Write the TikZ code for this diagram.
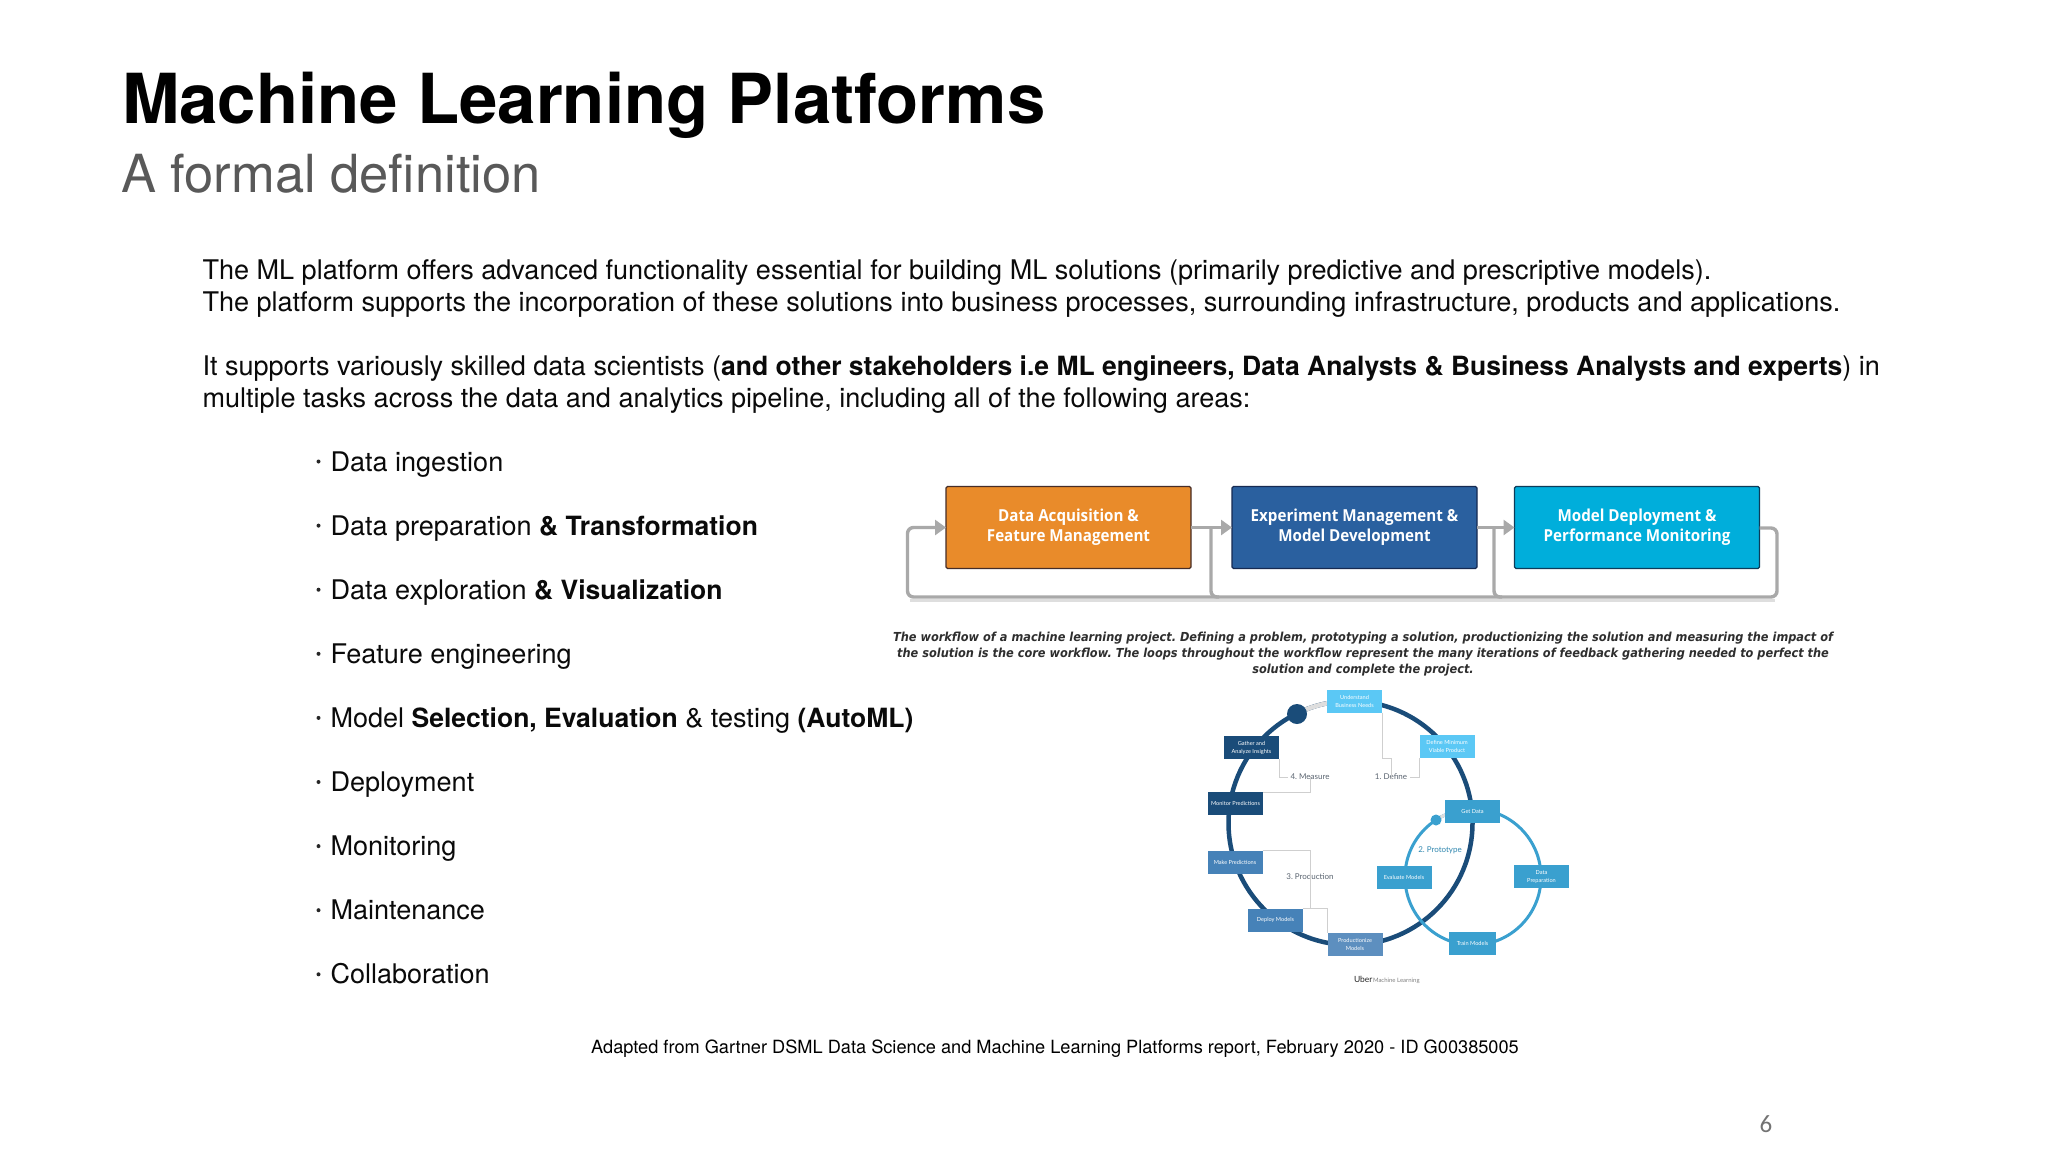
\documentclass[tikz,border=0pt]{standalone}
\usepackage{fontspec}
\setmainfont{TeX Gyre Heros}
\newfontfamily\boxfont[FakeStretch=0.92]{Open Sans}
\newfontfamily\capfont[FakeStretch=0.916]{DejaVu Sans}
\newfontfamily\uifont{Lato}
\newfontfamily\numfont{Carlito}
\usetikzlibrary{arrows.meta,calc}
\definecolor{navy}{HTML}{1A4C79}
\definecolor{midblue}{HTML}{3AA0CF}
\definecolor{lightblue}{HTML}{5BC8F5}
\definecolor{flowgrey}{HTML}{A9A9A9}
\definecolor{shadowgrey}{HTML}{DEDEDE}
\definecolor{conn}{HTML}{CFCFCF}
\definecolor{sublabel}{HTML}{5A6470}
\newcommand{\bd}[1]{{\bfseries\fontsize{26.5}{32}\selectfont #1}}
\frenchspacing
\tikzset{
  px/.style={inner sep=0pt,outer sep=0pt},
  body/.style={px,anchor=base west,font=\fontsize{27.05}{32}\selectfont,text=black!96},
  flowbox/.style={px,line width=1.2pt,rounded corners=1.5pt,minimum width=245pt,minimum height=82pt,
     align=center,text=white,font=\boxfont\bfseries\fontsize{16.5}{20}\selectfont},
  flow/.style={line width=3.4pt,draw=flowgrey},
  flowarrow/.style={flow,-{Triangle[length=11pt,width=15pt]}},
  tile/.style={px,minimum width=55pt,minimum height=23pt,align=center,text=white,font=\uifont\fontsize{5.6}{8}\selectfont},
  lab/.style={px,text=sublabel,font=\uifont\fontsize{8}{10}\selectfont},
  tieline/.style={draw=conn,line width=0.8pt},
}
\begin{document}
\begin{tikzpicture}[x=1pt,y=-1pt]
\useasboundingbox[fill=white] (0,0) rectangle (2048,1152);

% headings
\node[px,anchor=base west,font=\bfseries\fontsize{69}{72}\selectfont] (title) at (122,123) {Machine Learning Platforms};
\node[px,anchor=base west,text=black!65,font=\fontsize{52.5}{60}\selectfont] (subtitle) at (121,192) {A formal definition};

% paragraphs
\node[body] (p1) at (202.5,279) {The ML platform offers advanced functionality essential for building ML solutions (primarily predictive and prescriptive models).};
\node[body] (p2) at (202.5,311) {The platform supports the incorporation of these solutions into business processes, surrounding infrastructure, products and applications.};
\node[body] (p3) at (202.5,375) {It supports variously skilled data scientists (\bd{and other stakeholders i.e ML engineers, Data Analysts \& Business Analysts and experts}) in};
\node[body] (p4) at (202.5,407) {multiple tasks across the data and analytics pipeline, including all of the following areas:};

% bullets
\foreach \n/\t [count=\i from 0] in {b1/{Data ingestion},b2/{Data preparation \bd{\& Transformation}},b3/{Data exploration \bd{\& Visualization}},b4/{Feature engineering},b5/{Model \bd{Selection, Evaluation} \& testing \bd{(AutoML)}},b6/{Deployment},b7/{Monitoring},b8/{Maintenance},b9/{Collaboration}}{
  \node[body] (\n) at (330.5,{471+64.1*\i}) {\t};
  \node[px,circle,fill=black!85,minimum size=4pt] (\n dot) at (318.5,{461.5+64.1*\i}) {};
}

% footer
\node[px,font=\fontsize{18.2}{22}\selectfont] (source) at (1055,1049) {Adapted from Gartner DSML Data Science and Machine Learning Platforms report, February 2020 - ID G00385005};
\node[px,text=black!55,font=\numfont\fontsize{25}{28}\selectfont] (page) at (1766,1124) {6};

% pipeline
\coordinate (loopR) at (1777,528);
\coordinate (loopRb) at (1777,597);
\coordinate (loopL) at (907.5,597);
\coordinate (loopLt) at (907.5,527.5);
\coordinate (br1) at (1211,527.5);
\coordinate (br1b) at (1211,597);
\coordinate (br2) at (1494,527.5);
\coordinate (br2b) at (1494,597);
\node[flowbox,fill={rgb,255:red,233;green,139;blue,42},draw={rgb,255:red,70;green,45;blue,40}] (fa) at (1068.5,527.5) {Data Acquisition \&\\Feature Management};
\node[flowbox,fill={rgb,255:red,42;green,96;blue,159},draw={rgb,255:red,22;green,42;blue,82}] (fb) at (1354.5,527.5) {Experiment Management \&\\Model Development};
\node[flowbox,fill={rgb,255:red,0;green,174;blue,219},draw={rgb,255:red,12;green,60;blue,90}] (fc) at (1637,527.5) {Model Deployment \&\\Performance Monitoring};
\draw[line width=3pt,draw=shadowgrey] ($(loopL)+(2,3)$) -- ($(loopRb)+(-2,3)$);
\draw[flow,rounded corners=6pt] (fc.east |- loopR) -- (loopR) -- (loopRb) -- (loopL) -- (loopLt) -- ([xshift=-8pt]fa.west);
\draw[flow,rounded corners=6pt] (br1) -- (br1b) -- ++(8,0);
\draw[flow,rounded corners=6pt] (br2) -- (br2b) -- ++(8,0);
\draw[flowarrow] ([xshift=-12pt]fa.west) -- (fa.west);
\draw[flowarrow] (fa.east) -- (fb.west);
\draw[flowarrow] (fb.east) -- (fc.west);

% caption
\node[px,align=center,text=black!82,font=\capfont\bfseries\itshape\fontsize{12.4}{16}\selectfont] (caption) at (1363,654) {The workflow of a machine learning project. Defining a problem, prototyping a solution, productionizing the solution and measuring the impact of\\the solution is the core workflow. The loops throughout the workflow represent the many iterations of feedback gathering needed to perfect the\\solution and complete the project.};

% cycles
\coordinate (big) at (1350.5,823);
\coordinate (small) at (1473,877);
\coordinate (bigdot) at (1297,714);
\coordinate (smalldot) at (1436,820);
\draw[line width=4.5pt,draw=navy] (big) circle (122);
\draw[line width=4.5pt,draw=shadowgrey] plot[domain=-116:-88,samples=12] ({1350.5+122*cos(\x)},{823+122*sin(\x)});
\draw[line width=3pt,draw=midblue] (small) circle (68);
\draw[line width=3pt,draw=shadowgrey] plot[domain=-123:-106,samples=8] ({1473+68*cos(\x)},{877+68*sin(\x)});
\node[px,circle,fill=navy,minimum size=20pt] (dotA) at (bigdot) {};
\node[px,circle,fill=midblue,minimum size=11pt] (dotB) at (smalldot) {};

% tiles
\node[tile,fill=lightblue] (t1) at (1354.5,701) {Understand\\Business Needs};
\node[tile,fill=lightblue] (t2) at (1447,746.5) {Define Minimum\\Viable Product};
\node[tile,fill=midblue] (t3) at (1472.5,811.5) {Get Data};
\node[tile,fill=midblue] (t4) at (1541.5,876.5) {Data\\Preparation};
\node[tile,fill=midblue,minimum width=47pt] (t5) at (1472.5,943.5) {Train Models};
\node[tile,fill=midblue] (t6) at (1404,877) {Evaluate Models};
\node[tile,fill={rgb,255:red,93;green,143;blue,191}] (t7) at (1355,944.5) {Productionize\\Models};
\node[tile,fill={rgb,255:red,70;green,130;blue,184}] (t8) at (1275.5,920) {Deploy Models};
\node[tile,fill={rgb,255:red,70;green,130;blue,184}] (t9) at (1235,862) {Make Predictions};
\node[tile,fill=navy] (t10) at (1235.5,803.5) {Monitor Predictions};
\node[tile,fill=navy] (t11) at (1251.5,747.5) {Gather and\\Analyze Insights};

% stage labels
\node[lab] (l1) at (1391,777) {1. Define};
\node[lab] (l4) at (1310,777) {4. Measure};
\node[lab] (l3) at (1310,877) {3. Production};
\node[lab,text=midblue!85!black] (l2) at (1440,850) {2. Prototype};
\node[px,anchor=base west,font=\uifont\fontsize{8.5}{10}\selectfont,text=black!85] (uber) at (1354,982) {Uber};
\node[px,anchor=base west,font=\uifont\fontsize{6}{8}\selectfont,text=black!50] (uberml) at (1373,982) {Machine Learning};

% thin ties
\draw[tieline] (t1.south east) -- ++(0,46) -| ([yshift=-5pt]l1.north);
\draw[tieline] (t2.south west) |- ([xshift=3pt]l1.east);
\draw[tieline] (t11.south east) |- ([xshift=-3pt]l4.west);
\draw[tieline] (t10.north east) -| ([yshift=4pt]l4.south);
\draw[tieline] (t9.north east) -| ([yshift=-5pt]l3.north);
\draw[tieline] ([yshift=5pt]l3.south) -- (l3.south |- t8.north);
\draw[tieline] (t8.north east) -| (t7.north west);
\end{tikzpicture}
\end{document}
